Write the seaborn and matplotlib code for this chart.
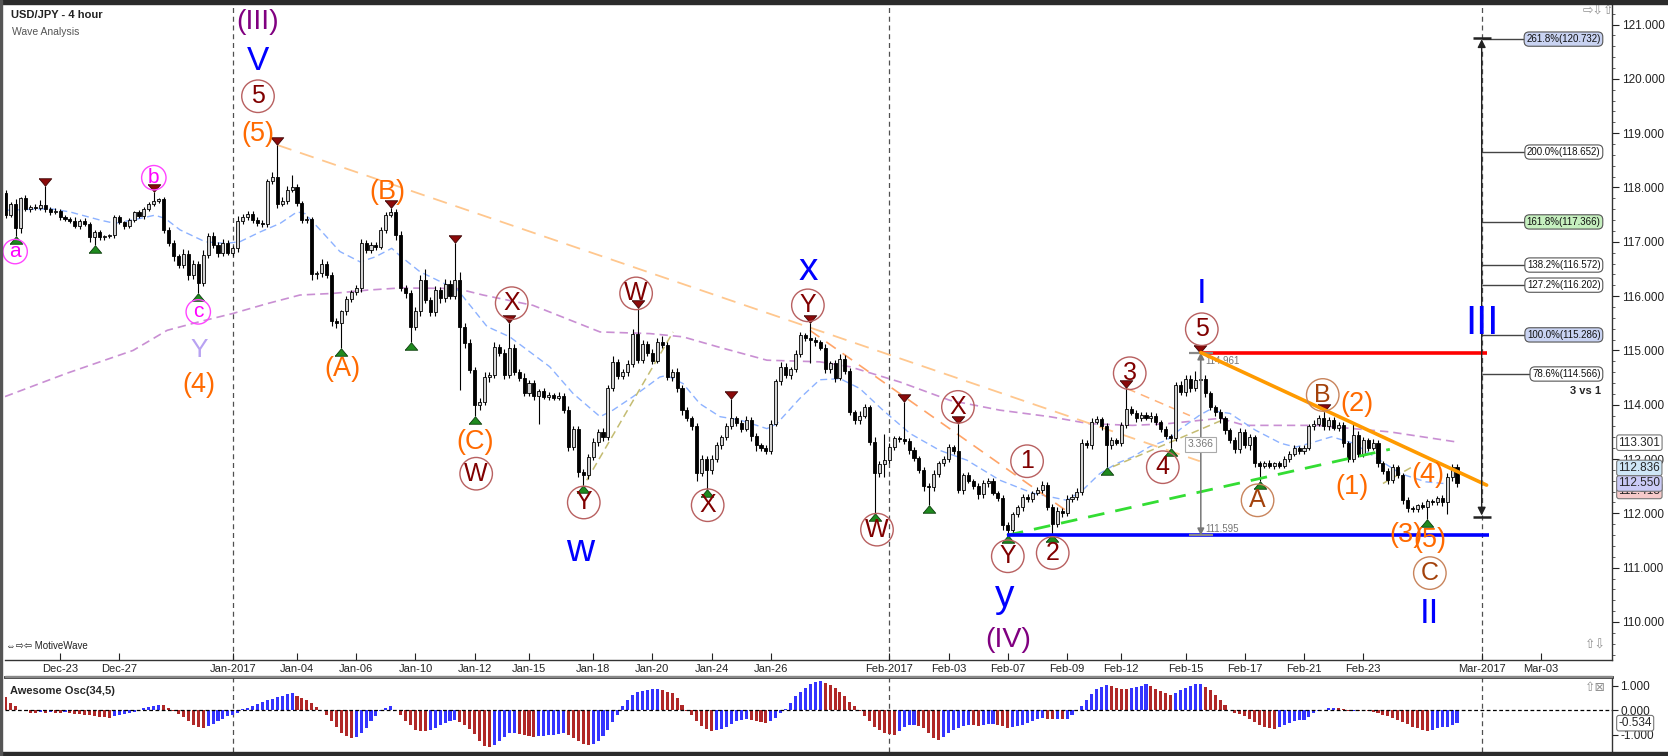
import numpy as np
import pandas as pd
import matplotlib
matplotlib.use("Agg")
import matplotlib.pyplot as plt
import matplotlib.transforms as mtransforms
from matplotlib.patches import Rectangle
import seaborn as sns

sns.set_theme(style="white")
plt.rcParams['font.family'] = ['Liberation Sans', 'DejaVu Sans']

# ------------------------------------------------------------------ data
first_open = 117.90
close = [
    117.50, 117.70, 117.25, 117.80, 117.60, 117.64, 117.62, 117.68, 117.60, 117.55,
    117.57, 117.46, 117.42, 117.39, 117.30, 117.38, 117.33, 117.08, 117.18, 117.08,
    117.10, 117.12, 117.45, 117.36, 117.30, 117.40, 117.54, 117.47, 117.60, 117.70,
    117.75, 117.78, 117.22, 116.97, 116.73, 116.58, 116.78, 116.38, 116.60, 116.25,
    116.75, 117.10, 116.95, 116.80, 116.98, 116.80, 116.88, 117.38, 117.45, 117.52,
    117.40, 117.35, 117.32, 118.12, 118.20, 117.70, 117.76, 117.95, 118.00, 117.72,
    117.40, 117.42, 116.40, 116.42, 116.60, 116.38, 115.55, 115.50, 115.72, 115.95,
    116.08, 116.15, 116.97, 116.85, 116.95, 116.90, 117.22, 117.50, 117.55, 117.12,
    116.15, 116.05, 115.44, 115.72, 116.29, 115.93, 115.70, 116.11, 115.96, 116.23,
    116.00, 116.30, 115.44, 115.13, 114.64, 113.99, 114.05, 114.51, 114.55, 115.07,
    114.95, 114.55, 115.05, 114.60, 114.50, 114.22, 114.40, 114.17, 114.25, 114.15,
    114.18, 114.13, 114.17, 113.90, 113.22, 113.55, 112.77, 112.70, 113.04, 113.32,
    113.50, 113.40, 114.30, 114.79, 114.53, 114.60, 114.75, 115.30, 114.82, 115.12,
    114.95, 114.80, 115.15, 115.10, 114.51, 114.60, 114.30, 113.90, 113.75, 113.60,
    112.75, 113.00, 112.80, 113.00, 113.25, 113.40, 113.60, 113.75, 113.66, 113.55,
    113.72, 113.42, 113.25, 113.20, 113.15, 113.65, 114.43, 114.70, 114.55, 114.65,
    114.94, 115.28, 115.22, 115.19, 115.15, 115.05, 114.65, 114.76, 114.50, 114.85,
    114.62, 113.87, 113.72, 113.80, 113.95, 113.32, 112.75, 112.90, 112.98, 113.23,
    113.38, 113.36, 113.33, 113.16, 113.02, 112.80, 112.50, 112.48, 112.72, 112.92,
    113.00, 113.22, 113.15, 112.43, 112.70, 112.60, 112.50, 112.35, 112.55, 112.60,
    112.38, 112.28, 111.78, 111.70, 111.98, 112.12, 112.30, 112.26, 112.37, 112.43,
    112.52, 112.12, 111.80, 112.05, 112.00, 112.27, 112.30, 112.40, 113.29, 113.25,
    113.69, 113.73, 113.60, 113.25, 113.35, 113.30, 113.62, 113.92, 113.85, 113.75,
    113.82, 113.75, 113.80, 113.68, 113.55, 113.42, 113.38, 114.36, 114.24, 114.48,
    114.30, 114.45, 114.48, 114.21, 113.96, 113.86, 113.75, 113.53, 113.35, 113.18,
    113.50, 113.25, 113.40, 112.92, 112.88, 112.93, 112.88, 112.92, 112.88, 113.00,
    113.10, 113.20, 113.15, 113.20, 113.60, 113.65, 113.75, 113.60, 113.72, 113.58,
    113.63, 113.30, 113.00, 113.45, 113.10, 113.35, 113.20, 113.30, 112.92, 112.78,
    112.62, 112.85, 112.70, 112.24, 112.10, 112.08, 112.15, 112.12, 112.22, 112.20,
    112.28, 112.20, 112.67, 112.85, 112.55,
]
# wick lengths in hundredths of a yen above / below the candle body
upper_wick = [
    5, 4, 8, 3, 6, 4, 5, 9, 34, 4,
    5, 3, 4, 3, 6, 4, 5, 3, 4, 3,
    2, 3, 4, 5, 3, 4, 3, 5, 4, 3,
    17, 3, 4, 5, 6, 4, 8, 6, 7, 5,
    10, 6, 8, 5, 7, 6, 5, 9, 6, 5,
    4, 6, 5, 4, 8, 58, 6, 7, 23, 6,
    4, 5, 4, 5, 8, 4, 6, 5, 3, 6,
    4, 5, 8, 6, 5, 4, 6, 5, 7, 6,
    8, 5, 6, 8, 10, 20, 6, 7, 5, 8,
    6, 67, 15, 6, 8, 5, 7, 9, 6, 8,
    5, 7, 45, 6, 5, 8, 6, 5, 4, 6,
    5, 4, 6, 5, 8, 6, 5, 4, 6, 7,
    5, 8, 6, 10, 5, 6, 7, 9, 48, 8,
    6, 7, 8, 12, 6, 5, 7, 6, 5, 4,
    6, 8, 5, 7, 6, 5, 6, 35, 5, 6,
    8, 5, 6, 4, 5, 6, 5, 8, 6, 5,
    7, 6, 5, 28, 6, 5, 7, 5, 6, 8,
    6, 5, 4, 8, 6, 5, 8, 6, 49, 6,
    5, 4, 69, 5, 6, 4, 5, 6, 7, 5,
    6, 5, 4, 49, 5, 6, 4, 5, 6, 5,
    6, 4, 5, 6, 5, 4, 6, 5, 4, 6,
    8, 5, 6, 7, 4, 6, 5, 6, 8, 6,
    7, 6, 5, 6, 5, 4, 6, 38, 5, 6,
    5, 4, 6, 5, 4, 6, 5, 6, 8, 7,
    6, 17, 48, 6, 5, 4, 6, 5, 4, 6,
    7, 5, 6, 4, 5, 4, 5, 3, 4, 5,
    4, 5, 4, 6, 5, 7, 6, 12, 6, 5,
    6, 5, 4, 20, 6, 5, 4, 6, 5, 4,
    6, 5, 4, 5, 6, 4, 3, 5, 4, 5,
    4, 6, 8, 6, 5,
]
lower_wick = [
    6, 5, 15, 8, 4, 5, 3, 4, 5, 6,
    4, 5, 3, 4, 5, 6, 4, 8, 13, 5,
    4, 3, 5, 4, 6, 5, 4, 3, 5, 4,
    5, 4, 6, 5, 8, 6, 7, 8, 6, 20,
    6, 5, 7, 8, 6, 5, 7, 6, 5, 4,
    5, 6, 4, 5, 6, 8, 5, 6, 4, 7,
    6, 5, 10, 8, 6, 5, 10, 8, 45, 6,
    5, 6, 8, 5, 6, 5, 4, 6, 5, 8,
    6, 8, 29, 6, 8, 5, 7, 6, 8, 6,
    5, 6, 117, 8, 6, 19, 8, 6, 10, 5,
    6, 8, 5, 6, 7, 5, 6, 8, 52, 5,
    6, 5, 4, 6, 8, 6, 10, 18, 6, 5,
    8, 6, 5, 4, 6, 5, 7, 5, 6, 5,
    6, 5, 4, 6, 5, 7, 6, 8, 5, 6,
    15, 6, 35, 7, 5, 6, 5, 4, 6, 5,
    4, 8, 10, 5, 6, 5, 4, 6, 5, 7,
    5, 6, 4, 43, 6, 5, 6, 7, 8, 5,
    6, 5, 7, 8, 5, 6, 75, 8, 23, 5,
    6, 5, 6, 7, 5, 6, 8, 33, 6, 5,
    4, 6, 5, 6, 8, 5, 6, 8, 6, 7,
    5, 6, 8, 10, 6, 5, 7, 6, 5, 4,
    6, 5, 18, 6, 7, 5, 6, 5, 6, 5,
    6, 5, 7, 40, 6, 5, 6, 5, 4, 6,
    5, 4, 6, 5, 6, 5, 18, 5, 6, 8,
    6, 5, 6, 7, 5, 6, 8, 6, 5, 7,
    6, 5, 8, 6, 28, 5, 4, 6, 5, 4,
    5, 4, 6, 5, 4, 6, 5, 6, 7, 5,
    6, 8, 6, 5, 7, 6, 5, 4, 6, 5,
    8, 6, 5, 7, 8, 6, 5, 4, 22, 5,
    4, 6, 22, 8, 6,
]
ao_values = [
    0.55, 0.30, 0.15, 0.02, -0.05, -0.10, -0.12, -0.08, -0.10, -0.07,
    -0.10, -0.12, -0.08, -0.12, -0.15, -0.18, -0.20, -0.22, -0.25, -0.28,
    -0.30, -0.32, -0.26, -0.22, -0.18, -0.12, -0.08, 0.02, 0.08, 0.13,
    0.18, 0.22, 0.20, 0.08, -0.05, -0.15, -0.30, -0.46, -0.60, -0.70,
    -0.73, -0.66, -0.55, -0.45, -0.35, -0.26, -0.20, -0.12, 0.03, 0.10,
    0.17, 0.25, 0.32, 0.40, 0.47, 0.53, 0.58, 0.64, 0.69, 0.58,
    0.50, 0.42, 0.30, 0.12, 0.00, -0.20, -0.45, -0.68, -0.92, -1.05,
    -1.14, -1.10, -0.94, -0.75, -0.45, -0.25, -0.05, 0.08, 0.15, 0.02,
    -0.20, -0.45, -0.62, -0.80, -0.87, -0.87, -0.80, -0.72, -0.62, -0.52,
    -0.45, -0.40, -0.48, -0.60, -0.78, -0.98, -1.25, -1.45, -1.52, -1.42,
    -1.25, -1.10, -0.94, -0.92, -0.97, -1.02, -1.05, -1.08, -1.07, -1.05,
    -1.03, -1.00, -0.96, -0.94, -1.02, -1.12, -1.25, -1.38, -1.44, -1.40,
    -1.25, -1.05, -0.80, -0.50, -0.20, 0.15, 0.40, 0.62, 0.72, 0.78,
    0.82, 0.85, 0.86, 0.80, 0.75, 0.68, 0.50, 0.20, -0.05, -0.20,
    -0.45, -0.65, -0.78, -0.87, -0.83, -0.76, -0.70, -0.55, -0.45, -0.40,
    -0.38, -0.40, -0.45, -0.50, -0.53, -0.45, -0.32, -0.10, 0.05, 0.30,
    0.56, 0.75, 0.90, 1.05, 1.15, 1.17, 1.10, 1.02, 0.92, 0.75,
    0.56, 0.35, 0.15, -0.05, -0.26, -0.45, -0.67, -0.82, -0.94, -0.98,
    -1.00, -0.85, -0.68, -0.62, -0.60, -0.66, -0.74, -0.95, -1.15, -1.24,
    -1.10, -0.94, -0.82, -0.72, -0.65, -0.60, -0.62, -0.63, -0.60, -0.58,
    -0.56, -0.60, -0.66, -0.73, -0.70, -0.66, -0.60, -0.52, -0.45, -0.38,
    -0.33, -0.35, -0.37, -0.36, -0.38, -0.35, -0.20, -0.05, 0.15, 0.42,
    0.65, 0.85, 0.94, 1.02, 0.98, 0.90, 0.88, 0.87, 0.90, 0.95,
    1.00, 1.06, 0.97, 0.88, 0.78, 0.70, 0.63, 0.69, 0.80, 0.92,
    1.00, 1.05, 1.06, 0.96, 0.83, 0.62, 0.42, 0.20, 0.01, -0.10,
    -0.18, -0.26, -0.38, -0.48, -0.60, -0.68, -0.74, -0.78, -0.70, -0.60,
    -0.52, -0.46, -0.42, -0.39, -0.30, -0.12, -0.02, 0.01, 0.08, 0.10,
    0.08, 0.04, -0.03, -0.02, -0.04, -0.05, -0.05, -0.08, -0.12, -0.19,
    -0.26, -0.33, -0.39, -0.48, -0.58, -0.67, -0.75, -0.80, -0.84, -0.80,
    -0.75, -0.70, -0.67, -0.60, -0.534,
]
assert len(close) == len(upper_wick) == len(lower_wick) == len(ao_values)

# bars (1-based) carrying swing markers
swing_low_bars = [3, 19, 40, 69, 83, 96, 118, 143, 177, 188, 204, 213, 224, 237, 255, 289]
swing_high_bars = [9, 31, 56, 79, 92, 103, 129, 148, 164, 183, 194, 228, 243, 268]

# moving averages (bar, value)
ma_fast_bar = [0.85, 10, 14, 20.1, 23.1, 28.2, 31.2, 33.3, 36.3, 41.4, 45.4, 48.4, 52.5, 56.6,
               60, 61.6, 64.7, 68.7, 72.8, 75.8, 79.2, 80.9, 84.9, 92.6, 98.5, 103.1, 111.2,
               115.9, 121.4, 124, 128.1, 133.5, 134.9, 138.2, 141.6, 145.7, 149.7, 155.2,
               157.2, 161.9, 165.9, 170, 174, 178.7, 184.2, 190.2, 195.7, 202.4, 209.1, 216,
               219.2, 222.6, 226.1, 229.3, 232.8, 236.2, 239.5, 242.9, 244.7, 249, 254.2,
               259.3, 262.3, 265.2, 269.6, 274.1, 278.3, 283.6, 288.7, 292.3]
ma_fast_val = [117.58, 117.61, 117.55, 117.40, 117.34, 117.43, 117.49, 117.43, 117.22, 117.00,
               116.97, 117.00, 117.18, 117.34, 117.55, 117.52, 117.22, 116.82, 116.63, 116.72,
               116.88, 116.74, 116.45, 116.11, 115.44, 115.25, 114.70, 114.21, 113.78, 113.90,
               114.15, 114.51, 114.54, 114.39, 114.02, 113.78, 113.72, 113.56, 113.65, 114.12,
               114.46, 114.48, 114.30, 113.90, 113.47, 113.16, 112.98, 112.61, 112.37, 112.24,
               112.43, 112.73, 112.92, 113.04, 113.23, 113.35, 113.59, 113.81, 113.90, 113.84,
               113.53, 113.29, 113.22, 113.29, 113.41, 113.29, 113.04, 112.73, 112.58, 112.55]
ma_slow_bar = [0.85, 13.4, 26.8, 33.7, 40.3, 47, 53.9, 60.6, 67.3, 74.2, 80.9, 92.4, 97.7,
               107.8, 121.4, 131.5, 138.2, 145.1, 155.2, 165.9, 172, 182.1, 192.3, 202.4,
               212.5, 220.6, 229.3, 236.2, 247, 252, 266.6, 281.4, 294.5]
ma_slow_val = [114.15, 114.58, 115.00, 115.37, 115.53, 115.68, 115.86, 116.02, 116.05, 116.11,
               116.15, 116.14, 116.02, 115.83, 115.34, 115.31, 115.25, 115.07, 114.82, 114.79,
               114.70, 114.42, 114.08, 113.90, 113.78, 113.65, 113.62, 113.65, 113.75, 113.62,
               113.62, 113.50, 113.32]

# drawn trend lines: (bar0, price0, bar1, price1)
peach_line = (56.1, 118.78, 242.9, 112.96)
orange_dash_line = (163.9, 115.37, 216.6, 112.00)
orange_short_line = (228.1, 114.30, 240.9, 113.80)
olive_lines = [(118.7, 112.61, 136.2, 115.34), (225.3, 112.86, 247.0, 113.70),
               (280.0, 112.55, 286.0, 112.86)]
green_line = (203.8, 111.595, 281.4, 113.18)
orange_trend = (243.1, 114.961, 301.0, 112.52)
wave1_top = 114.961
wave2_base = 111.595

fib_pct = ['261.8%', '200.0%', '161.8%', '138.2%', '127.2%', '100.0%', '78.6%']
fib_level = [120.732, 118.652, 117.366, 116.572, 116.202, 115.286, 114.566]
fib_fill = ['#c9d3f2', 'white', '#c6f0bf', 'white', 'white', '#c9d3f2', 'white']
fib_top, fib_bottom = 120.76, 111.93

tick_dates = ['2016-12-23', '2016-12-27', '2017-01-01', '2017-01-04', '2017-01-06',
              '2017-01-10', '2017-01-12', '2017-01-15', '2017-01-18', '2017-01-20',
              '2017-01-24', '2017-01-26', '2017-02-01', '2017-02-03', '2017-02-07',
              '2017-02-09', '2017-02-12', '2017-02-15', '2017-02-17', '2017-02-21',
              '2017-02-23', '2017-03-01', '2017-03-03']
tick_labels = ['Dec-23', 'Dec-27', 'Jan-2017', 'Jan-04', 'Jan-06', 'Jan-10', 'Jan-12',
               'Jan-15', 'Jan-18', 'Jan-20', 'Jan-24', 'Jan-26', 'Feb-2017', 'Feb-03',
               'Feb-07', 'Feb-09', 'Feb-12', 'Feb-15', 'Feb-17', 'Feb-21', 'Feb-23',
               'Mar-2017', 'Mar-03']
month_dates = ['2017-01-01', '2017-02-01', '2017-03-01']
price_ticks = list(range(110, 122))
osc_ticks = [-1.0, 0.0, 1.0]

axis_tags = [(113.301, 'white'), (112.836, '#cfe6f6'), (112.413, '#f6caca'), (112.550, '#cacaf6')]

# wave labels
PURPLE, BLUE, ORANGE, LAV = '#800080', '#0000ff', '#ff6a00', '#b8a2f2'
plain_labels = [  # text, bar, price, colour, size, vertical alignment
    ('(III)', 52.1, 121.04, PURPLE, 20.5, 'center'),
    ('V', 52.1, 120.16, BLUE, 24, 'baseline'),
    ('(5)', 52.1, 118.98, ORANGE, 19.5, 'center'),
    ('(B)', 78.4, 117.91, ORANGE, 19.5, 'center'),
    ('(A)', 69.3, 114.66, ORANGE, 19.5, 'center'),
    ('Y', 40.2, 114.88, LAV, 19, 'baseline'),
    ('(4)', 40.2, 114.37, ORANGE, 19.5, 'center'),
    ('(C)', 96.0, 113.32, ORANGE, 19.5, 'center'),
    ('w', 117.3, 111.12, BLUE, 28, 'baseline'),
    ('x', 163.5, 116.29, BLUE, 28, 'baseline'),
    ('y', 203.4, 110.27, BLUE, 28, 'baseline'),
    ('(IV)', 204.0, 109.66, PURPLE, 20.5, 'center'),
    ('I', 243.3, 115.87, BLUE, 25, 'baseline'),
    ('(2)', 274.7, 114.01, ORANGE, 19.5, 'center'),
    ('(1)', 273.7, 112.48, ORANGE, 19.5, 'center'),
    ('(4)', 289.1, 112.70, ORANGE, 19.5, 'center'),
    ('(3)', 284.6, 111.61, ORANGE, 19.5, 'center'),
    ('(5)', 289.5, 111.51, ORANGE, 19.5, 'center'),
    ('II', 289.5, 109.98, BLUE, 25, 'baseline'),
    ('III', 300.0, 115.30, BLUE, 29, 'baseline'),
]
circled_labels = [  # text, bar, price, kind
    ('5', 52.1, 119.68, 'dr'), ('b', 31.0, 118.18, 'mg'), ('a', 2.9, 116.82, 'mg'),
    ('c', 40.0, 115.71, 'mg'), ('X', 103.5, 115.87, 'dr'), ('W', 128.7, 116.05, 'dr'),
    ('W', 96.3, 112.73, 'dr'), ('Y', 118.1, 112.20, 'dr'), ('X', 143.2, 112.15, 'dr'),
    ('Y', 163.5, 115.83, 'dr'), ('W', 177.5, 111.70, 'dr'), ('X', 193.9, 113.96, 'dr'),
    ('1', 207.9, 112.96, 'dr'), ('Y', 204.0, 111.21, 'dr'), ('2', 213.1, 111.27, 'dr'),
    ('3', 228.7, 114.58, 'dr'), ('4', 235.4, 112.85, 'dr'), ('5', 243.3, 115.39, 'dr'),
    ('B', 267.8, 114.18, 'br'), ('A', 254.6, 112.24, 'br'), ('C', 289.5, 110.90, 'br'),
]
circle_style = {
    'dr': dict(tc='#800000', ec='#b86060', fs=18, pad=0.17),
    'mg': dict(tc='#ff00ff', ec='#ff44ff', fs=15, pad=0.13),
    'br': dict(tc='#a3420c', ec='#c8845c', fs=18, pad=0.17),
}

# ------------------------------------------------------------------ helpers
W, H = 1668.0, 756.0


def frac(x0, y0, x1, y1):
    return [x0 / W, 1 - y1 / H, (x1 - x0) / W, (y1 - y0) / H]


def date_to_bar(d):
    ts = pd.Timestamp(d)
    day = np.busday_count('2016-12-21', ts.date())
    return 6 * day - (1 if ts.dayofweek == 6 else 0)


def seg(ax, line, **kw):
    b0, p0, b1, p1 = line
    sns.lineplot(x=[b0, b1], y=[p0, p1], ax=ax, **kw)


# ------------------------------------------------------------------ figure
fig = plt.figure(figsize=(16.68, 7.56), dpi=100)
fig.patch.set_facecolor('white')
ax = fig.add_axes(frac(5, 5, 1612, 660))
axo = fig.add_axes(frac(5, 677, 1612, 752))
for a in (ax, axo):
    a.set_facecolor('white')
    a.set_xlim(0.85, 326.4)

n = len(close)
xb = np.arange(1, n + 1)
c = np.array(close)
o = np.concatenate([[first_open], c[:-1]])
hi = np.maximum(o, c) + np.array(upper_wick) / 100.0
lo = np.minimum(o, c) - np.array(lower_wick) / 100.0
up = c >= o

# moving averages
sns.lineplot(x=ma_slow_bar, y=ma_slow_val, ax=ax, color='#c98fd3', lw=1.2,
             linestyle=(0, (5, 3)), zorder=1)
sns.lineplot(x=ma_fast_bar, y=ma_fast_val, ax=ax, color='#8db2ff', lw=1.0,
             linestyle=(0, (5, 3)), zorder=1)

# month separators
for md in month_dates:
    mb = date_to_bar(md)
    for a in (ax, axo):
        a.axvline(mb, color='#505050', lw=0.9, ls=(0, (4, 3)), zorder=0)

# helper trend lines
seg(ax, peach_line, color='#ffc78e', lw=1.3, linestyle=(0, (8, 5)), zorder=2)
seg(ax, orange_dash_line, color='#ffa468', lw=1.2, linestyle=(0, (7, 5)), zorder=2)
seg(ax, orange_short_line, color='#ffb27a', lw=1.1, linestyle=(0, (6, 4)), zorder=2)
for ol in olive_lines:
    seg(ax, ol, color='#c4bc72', lw=1.1, linestyle=(0, (5, 3)), zorder=2)

# candles
body_b = np.minimum(o, c)
body_h = np.maximum(np.abs(c - o), 0.012)
ax.vlines(xb, lo, hi, color='black', lw=0.8, zorder=3)
ax.bar(xb[up], body_h[up], bottom=body_b[up], width=0.62, color='#d2d2d2',
       edgecolor='black', linewidth=0.6, zorder=4)
ax.bar(xb[~up], body_h[~up], bottom=body_b[~up], width=0.62, color='black',
       edgecolor='black', linewidth=0.6, zorder=4)

# swing markers
tri_up = [(-1, -0.6), (1, -0.6), (0, 0.6), (-1, -0.6)]
tri_dn = [(-1, 0.6), (1, 0.6), (0, -0.6), (-1, 0.6)]
t_below = mtransforms.offset_copy(ax.transData, fig=fig, x=0, y=-4, units='dots')
t_above = mtransforms.offset_copy(ax.transData, fig=fig, x=0, y=4, units='dots')
lb = np.array(swing_low_bars)
hb = np.array(swing_high_bars)
ax.plot(lb, lo[lb - 1], ls='none', marker=tri_up, ms=9, mfc='#1f8a1f', mec='#0b3d0b',
        mew=0.6, transform=t_below, zorder=5)
ax.plot(hb, hi[hb - 1], ls='none', marker=tri_dn, ms=9, mfc='#8b0a0a', mec='#3d0505',
        mew=0.6, transform=t_above, zorder=5)

# main structure lines
seg(ax, green_line, color='#33dd33', lw=2.0, linestyle=(0, (6, 4)), zorder=5)
ax.hlines(wave2_base, green_line[0], orange_trend[2] + 0.4, color='#0000ff', lw=2.6, zorder=5)
ax.hlines(wave1_top, orange_trend[0], orange_trend[2], color='#ff0000', lw=2.6, zorder=5)
seg(ax, orange_trend, color='#ff9a00', lw=2.6, zorder=6)

# wave1 length measurement
mb = orange_trend[0]
ax.annotate('', xy=(mb, wave1_top), xytext=(mb, wave2_base),
            arrowprops=dict(arrowstyle='<|-|>', color='#777777', lw=1.1,
                            shrinkA=0, shrinkB=0, mutation_scale=10), zorder=5)
ax.hlines([wave1_top, wave2_base], mb - 2.4, mb + 2.4, color='#888888', lw=1.6, zorder=5)
ax.text(mb + 1.0, 114.80, f'{wave1_top:.3f}', fontsize=7, color='#777777', va='center',
        zorder=5)
ax.text(mb + 1.0, 111.72, f'{wave2_base:.3f}', fontsize=7, color='#777777', va='center',
        zorder=5)
ax.text(mb, 113.27, f'{wave1_top - wave2_base:.3f}', fontsize=7.5, color='#777777',
        ha='center', va='center', zorder=7,
        bbox=dict(boxstyle='square,pad=0.25', fc='white', ec='#aaaaaa', lw=0.8))

# fibonacci extension tool
fx = date_to_bar('2017-03-01')
ax.annotate('', xy=(fx, fib_top - 0.03), xytext=(fx, fib_bottom + 0.03),
            arrowprops=dict(arrowstyle='<|-|>', color='#222222', lw=1.0,
                            shrinkA=0, shrinkB=0, mutation_scale=12), zorder=6)
ax.hlines([fib_top, fib_bottom], fx - 1.8, fx + 1.8, color='#222222', lw=1.8, zorder=6)
lab_right = 324.1
for pct, lev, fc in zip(fib_pct, fib_level, fib_fill):
    ax.hlines(lev, fx, lab_right - 8, color='#444444', lw=1.0, zorder=5)
    ax.text(lab_right, lev, f'{pct}({lev:.3f})', fontsize=7, ha='right', va='center',
            color='#111111', zorder=7,
            bbox=dict(boxstyle='round,pad=0.22,rounding_size=0.5', fc=fc, ec='#555555', lw=0.8))
ax.text(lab_right, 114.26, '3 vs 1', fontsize=8, weight='bold', ha='right', va='center')

# wave labels
for txt, b, p, col, fs, va in plain_labels:
    ax.text(b, p, txt, color=col, fontsize=fs, ha='center', va=va, zorder=8)
for txt, b, p, kind in circled_labels:
    st = circle_style[kind]
    ax.text(b, p, txt, color=st['tc'], fontsize=st['fs'], ha='center', va='center', zorder=8,
            bbox=dict(boxstyle=f"circle,pad={st['pad']}", fc='none', ec=st['ec'], lw=1.0))

# axes formatting: price panel
ax.set_ylim(109.30, 121.36)
ax.yaxis.tick_right()
ax.set_yticks(price_ticks)
ax.set_yticklabels([f'{v:.3f}' for v in price_ticks], fontsize=8.5)
ax.set_yticks(np.arange(109.4, 121.3, 0.2), minor=True)
ax.tick_params(axis='y', which='major', direction='out', length=5, width=0.8, pad=2,
               colors='#222222', right=True, left=False)
ax.tick_params(axis='y', which='minor', direction='out', length=2.5, width=0.6,
               colors='#444444', right=True, left=False)
tick_pos = [date_to_bar(d) for d in tick_dates]
ax.set_xticks(tick_pos)
ax.set_xticklabels(tick_labels, fontsize=8)
ax.tick_params(axis='x', direction='in', length=5, width=0.8, pad=3, colors='#222222',
               bottom=True)
ax.set_xlabel('')
ax.set_ylabel('')
for sname, sp in ax.spines.items():
    sp.set_visible(sname in ('bottom', 'right'))
    sp.set_color('#333333')
    sp.set_linewidth(1.0)

tr_tag = mtransforms.blended_transform_factory(ax.transAxes, ax.transData)
for val, fc in axis_tags:
    ax.text(1.004, val, f'{val:.3f}', transform=tr_tag, fontsize=8.5, ha='left', va='center',
            zorder=9, clip_on=False,
            bbox=dict(boxstyle='round,pad=0.15,rounding_size=0.2', fc=fc, ec='#777777', lw=0.8))

# oscillator panel
ao = np.array(ao_values)
rising = np.concatenate([[False], ao[1:] > ao[:-1]])
axo.bar(xb[rising], ao[rising], width=0.62, color='#3434ff', edgecolor='none', zorder=2)
axo.bar(xb[~rising], ao[~rising], width=0.62, color='#b02828', edgecolor='none', zorder=2)
axo.axhline(0, color='black', lw=0.9, ls=(0, (3, 2)), zorder=3)
axo.set_ylim(-1.71, 1.35)
axo.yaxis.tick_right()
axo.set_yticks(osc_ticks)
axo.set_yticklabels([f'{v:.3f}' for v in osc_ticks], fontsize=8.5)
axo.tick_params(axis='y', direction='out', length=4, width=0.8, pad=2, colors='#222222',
                right=True, left=False)
axo.set_xticks([])
for sname, sp in axo.spines.items():
    sp.set_visible(sname in ('top', 'right'))
    sp.set_color('#333333')
axo.spines['top'].set_linewidth(2.0)
axo.spines['right'].set_linewidth(1.0)
tr_tag_o = mtransforms.blended_transform_factory(axo.transAxes, axo.transData)
axo.text(1.004, ao[-1], f'{ao[-1]:.3f}', transform=tr_tag_o, fontsize=8.5, ha='left',
         va='center', clip_on=False,
         bbox=dict(boxstyle='round,pad=0.15,rounding_size=0.2', fc='white', ec='#777777', lw=0.8))
axo.text(0.003, 0.82, 'Awesome Osc(34,5)', transform=axo.transAxes, fontsize=8,
         weight='bold', ha='left', va='center')

# titles, decorations
fig.text(11 / W, 1 - 15 / H, 'USD/JPY - 4 hour', fontsize=8, weight='bold', va='center',
         color='#222222')
fig.text(12 / W, 1 - 32 / H, 'Wave Analysis', fontsize=7.5, va='center', color='#555555')
fig.text(1583 / W, 1 - 12 / H, '⇨⇩⇧', fontsize=9, va='center', color='#909090')
fig.text(6 / W, 1 - 646 / H, '⇔⇨⇦ MotiveWave', fontsize=7, va='center', color='#222222')
fig.text(1585 / W, 1 - 646 / H, '⇧⇩', fontsize=9, va='center', color='#909090')
fig.text(1585 / W, 1 - 688 / H, '⇧⊠', fontsize=9, va='center', color='#909090')
fig.add_artist(Rectangle((0, 1 - 4 / H), 1, 4 / H, transform=fig.transFigure,
                         color='#2b2b2b', zorder=10))
fig.add_artist(Rectangle((0, 0), 1, 4 / H, transform=fig.transFigure,
                         color='#2b2b2b', zorder=10))
fig.add_artist(Rectangle((0, 0), 2 / W, 1, transform=fig.transFigure,
                         color='#555555', zorder=10))
fig.add_artist(Rectangle((5 / W, 1 - 677 / H), 1607 / W, 1 / H, transform=fig.transFigure,
                         color='#888888', zorder=10))

fig.savefig('out.png', dpi=100, facecolor='white')
